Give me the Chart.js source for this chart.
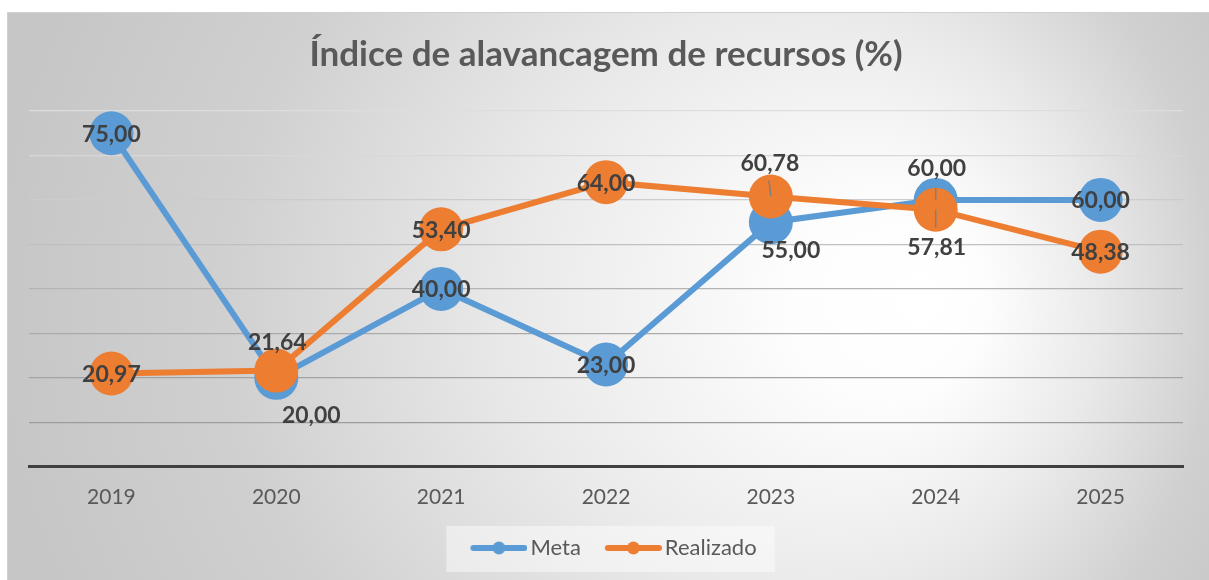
<!DOCTYPE html>
<html><head><meta charset="utf-8">
<script src="https://cdn.jsdelivr.net/npm/chart.js@4.4.0/dist/chart.umd.min.js"></script>
<style>html,body{margin:0;padding:0;background:#fff;}canvas{display:block}</style>
</head><body>
<canvas id="c" width="1209" height="580"></canvas>
<script>
const categories = ['2019', '2020', '2021', '2022', '2023', '2024', '2025'];
const metaValues = [75.00, 20.00, 40.00, 23.00, 55.00, 60.00, 60.00];
const realizadoValues = [20.97, 21.64, 53.40, 64.00, 60.78, 57.81, 48.38];
const seriesNames = ['Meta', 'Realizado'];
const chartTitle = 'Índice de alavancagem de recursos (%)';
const yMin = 0, yMax = 80, yStep = 10;

const COLORS = ['#5B9BD5', '#ED7D31'];
// label offsets (px) relative to each point, per series
const labelOffsets = [
  [[0,1],[35,38],[0,1],[0,1],[20,28],[1,-31],[0,1]],
  [[0,1],[1,-28],[0,1],[0,1],[-1,-33],[1,38],[0,1]]
];
// leader line end offsets (px) relative to point, null = none
const leaders = [
  [null,null,null,null,null,[0,-12],null],
  [null,null,null,null,[-2,-16],[0,18],null]
];
const gridColors = ['#999999','#9c9c9c','#a3a3a3','#aaaaaa','#b4b4b4','#c0c0c0','#cccccc','#d8d8d8','#dddddd'];

function fmt(v){ return v.toFixed(2).replace('.', ','); }

const ICON_MARGIN = 23;
function legendIcon(color){
  const c = document.createElement('canvas');
  c.width = ICON_MARGIN + 57; c.height = 14;
  const x = c.getContext('2d');
  const o = ICON_MARGIN;
  x.strokeStyle = color; x.lineWidth = 6; x.lineCap = 'round';
  x.beginPath(); x.moveTo(o+3,7); x.lineTo(o+54,7); x.stroke();
  x.fillStyle = color; x.beginPath(); x.arc(o+28.5,7,6.5,0,Math.PI*2); x.fill();
  return c;
}
const icons = COLORS.map(legendIcon);

const bgPlugin = {
  id: 'bg',
  beforeDraw(chart){
    const ctx = chart.ctx;
    ctx.save();
    ctx.fillStyle = '#ffffff';
    ctx.fillRect(0,0,chart.width,chart.height);
    const g = ctx.createRadialGradient(930,300,0,650,300,660);
    g.addColorStop(0,'#ffffff');
    g.addColorStop(0.15,'#fdfdfd');
    g.addColorStop(0.45,'#e9e9e9');
    g.addColorStop(0.75,'#d0d0d0');
    g.addColorStop(1,'#c6c6c6');
    ctx.fillStyle = g;
    ctx.fillRect(7,12,chart.width-7,chart.height-12);
    ctx.strokeStyle = '#d0d0d0'; ctx.lineWidth = 1;
    ctx.strokeRect(7.5,12.5,chart.width,chart.height);
    // legend box background
    const lg = chart.legend;
    if (lg && lg.legendHitBoxes && lg.legendHitBoxes.length){
      const hb = lg.legendHitBoxes;
      const l = hb[0].left + ICON_MARGIN - 8 - 24;
      const last = hb[hb.length-1];
      const r = last.left + last.width + 18;
      const cy = hb[0].top + hb[0].height/2;
      ctx.fillStyle = 'rgba(255,255,255,0.45)';
      ctx.fillRect(l, cy-22, r-l, 46);
    }
    ctx.restore();
  }
};

const labelPlugin = {
  id: 'ptlabels',
  afterDatasetsDraw(chart){
    const ctx = chart.ctx;
    ctx.save();
    chart.data.datasets.forEach((ds, di) => {
      const meta = chart.getDatasetMeta(di);
      meta.data.forEach((pt, j) => {
        const ld = leaders[di][j];
        if (ld){
          ctx.strokeStyle = '#7f7f7f'; ctx.lineWidth = 1.5;
          ctx.beginPath(); ctx.moveTo(pt.x, pt.y); ctx.lineTo(pt.x+ld[0], pt.y+ld[1]); ctx.stroke();
        }
      });
    });
    ctx.font = 'bold 23px Lato';
    ctx.fillStyle = '#404040';
    ctx.textAlign = 'center';
    ctx.textBaseline = 'middle';
    chart.data.datasets.forEach((ds, di) => {
      const meta = chart.getDatasetMeta(di);
      meta.data.forEach((pt, j) => {
        const o = labelOffsets[di][j];
        ctx.fillText(fmt(ds.data[j]), pt.x + o[0], pt.y + o[1]);
      });
    });
    ctx.restore();
  }
};

new Chart(document.getElementById('c'), {
  type: 'line',
  data: {
    labels: categories,
    datasets: [
      { label: seriesNames[0], data: metaValues, borderColor: COLORS[0], backgroundColor: COLORS[0],
        borderWidth: 6, pointRadius: 22, pointHoverRadius: 22, pointBorderWidth: 0, order: 1, tension: 0 },
      { label: seriesNames[1], data: realizadoValues, borderColor: COLORS[1], backgroundColor: COLORS[1],
        borderWidth: 6, pointRadius: 22, pointHoverRadius: 22, pointBorderWidth: 0, order: 0, tension: 0 }
    ]
  },
  options: {
    responsive: false,
    animation: false,
    devicePixelRatio: 1,
    layout: { padding: { left: 29, right: 26, top: 12, bottom: 11 } },
    scales: {
      x: {
        offset: true,
        grid: { display: false, drawTicks: false },
        border: { display: true, color: '#404040', width: 3 },
        ticks: { color: '#595959', font: { family: 'Lato', size: 21 }, padding: 18 }
      },
      y: {
        min: yMin, max: yMax,
        ticks: { display: false, stepSize: yStep },
        grid: { drawTicks: false, lineWidth: 1.3,
          color: (c) => c.tick && c.tick.value === 0 ? 'rgba(0,0,0,0)' : gridColors[c.index] || '#cccccc' },
        border: { display: false }
      }
    },
    plugins: {
      title: { display: true, text: chartTitle, color: '#595959',
        font: { family: 'Lato', size: 35, weight: 'bold' }, padding: { top: 22, bottom: 35 } },
      legend: {
        position: 'bottom',
        labels: {
          usePointStyle: true, pointStyleWidth: ICON_MARGIN + 41, boxHeight: 14,
          color: '#595959', font: { family: 'Lato', size: 22 }, padding: 9,
          sort: (a,b) => a.datasetIndex - b.datasetIndex,
          generateLabels(chart){
            const items = Chart.defaults.plugins.legend.labels.generateLabels(chart);
            items.forEach(it => { it.pointStyle = icons[it.datasetIndex]; });
            return items;
          }
        }
      },
      tooltip: { enabled: false }
    }
  },
  plugins: [bgPlugin, labelPlugin]
});
</script>
</body></html>
